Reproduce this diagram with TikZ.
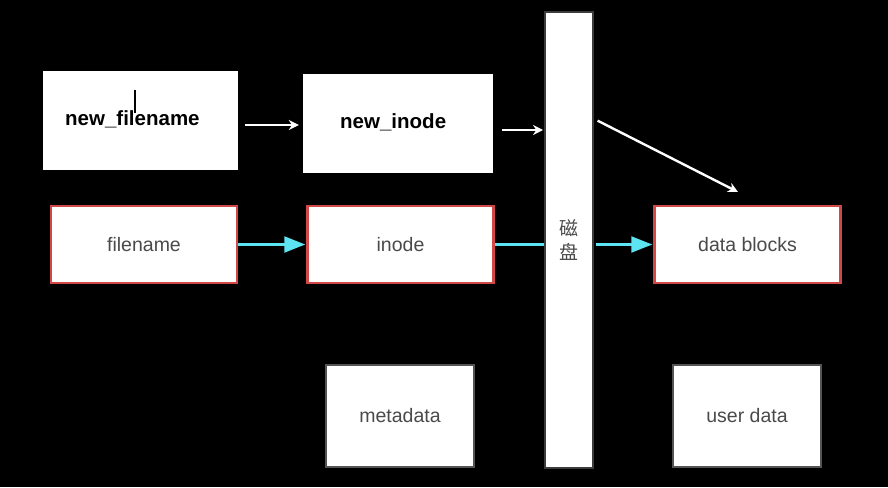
\documentclass[tikz,border=0pt]{standalone}
\usepackage{fontspec}
\setmainfont{Liberation Sans}
\newfontfamily\cjk{Noto Sans CJK SC}
\usetikzlibrary{arrows.meta}
\definecolor{boxred}{HTML}{D04848}
\definecolor{linecyan}{HTML}{5CE4F2}
\definecolor{labelgray}{HTML}{4A4A4A}
\definecolor{edgegray}{HTML}{555555}
\tikzset{
  newbox/.style={fill=white, inner sep=0pt, font=\fontsize{20.5}{24}\selectfont\bfseries},
  redbox/.style={draw=boxred, line width=2.5pt, fill=white, inner sep=0pt,
    minimum width=186pt, minimum height=77pt, text=labelgray, font=\fontsize{19.5}{23}\selectfont},
  graybox/.style={draw=edgegray, line width=1.5pt, fill=white, inner sep=0pt,
    minimum width=148pt, minimum height=102pt, text=labelgray, font=\fontsize{19.5}{23}\selectfont},
  whitearrow/.style={draw=white, line width=2.4pt, -{Stealth[length=10pt,width=10pt]}},
  cyanarrow/.style={draw=linecyan, line width=2.2pt, -{Triangle[length=21pt,width=16pt]}},
}
\begin{document}
\begin{tikzpicture}[x=1pt,y=-1pt]
  \fill[black] (0,0) rectangle (888,487);
  \useasboundingbox (0,0) rectangle (888,487);
  % top row
  \node[newbox, minimum width=195pt, minimum height=99pt] (nf) at (140.5,120.5) {};
  \node[font=\fontsize{20.5}{24}\selectfont\bfseries, anchor=base west, inner sep=0pt] (nftext) at (65,125) {new\_filename};
  \draw[black, line width=1.2pt] (135,90) -- (135,113);
  \node[newbox, minimum width=190pt, minimum height=99pt] (ni) at (398,123.5) {};
  \node[font=\fontsize{20.5}{24}\selectfont\bfseries, anchor=base west, inner sep=0pt] (nitext) at (340,128) {new\_inode};
  % disk
  \node[draw=edgegray!70!black, line width=2pt, fill=white, minimum width=48pt, minimum height=456pt,
    inner sep=0pt, text=labelgray, align=center, font=\cjk\fontsize{19}{24}\selectfont] (disk) at (569,240) {磁\\盘};
  % middle row
  \node[redbox] (fn) at (144,244.5) {filename};
  \node[redbox] (in) at (400.5,244.5) {inode};
  \node[redbox] (db) at (747.5,244.5) {data blocks};
  % bottom row
  \node[graybox] (md) at (400,416) {metadata};
  \node[graybox] (ud) at (747,416) {user data};
  \coordinate (diskin) at (543,130);
  \coordinate (dbtop) at (738,192);
  % white arrows
  \draw[whitearrow, shorten <=7pt, shorten >=4pt] ([yshift=-4.5pt]nf.east) -- ([yshift=-1.5pt]ni.west);
  \draw[whitearrow, shorten <=9pt] ([yshift=-6.5pt]ni.east) -- (diskin);
  \draw[whitearrow, shorten <=4pt] (disk.east |- nftext.east) -- (dbtop);
  % cyan arrows
  \draw[cyanarrow, shorten >=1pt] (fn.east) -- (in.west);
  \draw[draw=linecyan, line width=2.2pt] (in.east) -- (in.east -| disk.west);
  \draw[cyanarrow, shorten <=2pt, shorten >=1pt] (db.west -| disk.east) -- (db.west);
\end{tikzpicture}
\end{document}
